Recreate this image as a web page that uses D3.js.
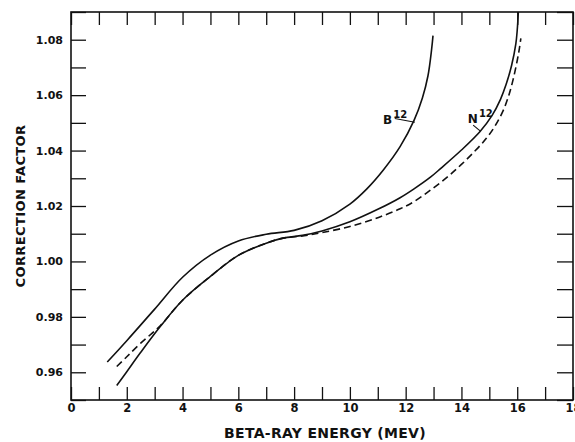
<!DOCTYPE html>
<html>
<head>
<meta charset="utf-8">
<script src="https://cdn.jsdelivr.net/npm/d3@7"></script>
<style>
  body { margin: 0; background: #fff; }
  svg { display: block; }
  text { font-family: "DejaVu Sans", sans-serif; font-weight: bold; fill: #111; }
</style>
</head>
<body>
<svg id="chart" width="575" height="442"></svg>
<script>
// beta-ray energy (MeV) vs correction factor
const b12 = [
  [1.30, 0.9637], [2.0, 0.9714], [3.0, 0.9828], [4.0, 0.9943], [5.0, 1.0023],
  [6.0, 1.0074], [7.0, 1.0098], [8.0, 1.0112], [9.0, 1.0147], [10.0, 1.0207],
  [10.6, 1.0261], [11.2, 1.0330], [11.8, 1.0414], [12.3, 1.0509], [12.6, 1.0590],
  [12.8, 1.0670], [12.93, 1.0765], [12.98, 1.0815]
];
const n12Solid = [
  [1.64, 0.9552], [2.0, 0.9602], [2.5, 0.9672], [3.2, 0.9765], [4.0, 0.9860],
  [5.0, 0.9946], [6.0, 1.0022], [7.0, 1.0066], [7.6, 1.0084], [8.3, 1.0094],
  [9.0, 1.0110], [10.0, 1.0143], [11.0, 1.0188], [11.8, 1.0230], [12.3, 1.0262],
  [12.9, 1.0305], [13.25, 1.0335], [14.0, 1.0402], [14.66, 1.0468], [15.1, 1.0527],
  [15.4, 1.0585], [15.6, 1.0638], [15.8, 1.0708], [15.95, 1.0785], [16.0, 1.0834],
  [16.04, 1.0900]
];
const n12Dashed = [
  [1.64, 0.9621], [2.0, 0.9656], [2.5, 0.9705], [3.2, 0.9768], [4.0, 0.9860],
  [5.0, 0.9946], [6.0, 1.0022], [7.0, 1.0066], [7.6, 1.0084], [8.3, 1.0092],
  [9.0, 1.0104], [10.0, 1.0126], [11.0, 1.0158], [11.8, 1.0190], [12.3, 1.0216],
  [12.9, 1.0258], [13.5, 1.0305], [14.0, 1.0350], [14.5, 1.0400], [14.9, 1.0445],
  [15.2, 1.0488], [15.5, 1.0545], [15.7, 1.0600], [15.85, 1.0655], [16.0, 1.0725],
  [16.08, 1.0770], [16.13, 1.0805]
];
const xTickValues = d3.range(0, 19);          // every MeV
const xLabelValues = d3.range(0, 19, 2);      // labelled ones
const yTickValues = d3.range(95, 110).map(v => v / 100);
const yLabelValues = [0.96, 0.98, 1.00, 1.02, 1.04, 1.06, 1.08];
const labels = [
  {name: 'B', sup: '12', at: [11.19, 1.0496], from: [11.61, 1.0516], to: [12.33, 1.0502]},
  {name: 'N', sup: '12', at: [14.23, 1.0500], from: [14.42, 1.0492], to: [14.68, 1.0470]}
];

const margin = {top: 12, right: 2, bottom: 42, left: 71},
    width = 575 - margin.left - margin.right,
    height = 442 - margin.top - margin.bottom;

const svg = d3.select('#chart');
const g = svg.append('g').attr('transform', `translate(${margin.left},${margin.top})`);

const x = d3.scaleLinear().domain([0, 18]).range([0, width]);
const y = d3.scaleLinear().domain([0.95, 1.09]).range([height, 0]);

//Inner ticks on all four sides.
const isLabelled = (vals, fmt) => d => vals.some(v => Math.abs(v - d) < 1e-9) ? fmt(d) : '';

const axisB = g.append('g')
    .attr('transform', `translate(0,${height})`)
    .call(d3.axisBottom(x).tickValues(xTickValues).tickSize(-13).tickPadding(4)
        .tickFormat(isLabelled(xLabelValues, d3.format('d'))));
const axisT = g.append('g')
    .call(d3.axisTop(x).tickValues(xTickValues).tickSize(-13).tickFormat(''));
const axisL = g.append('g')
    .call(d3.axisLeft(y).tickValues(yTickValues).tickSize(-15).tickPadding(8)
        .tickFormat(isLabelled(yLabelValues, d3.format('.2f'))));
const axisR = g.append('g')
    .attr('transform', `translate(${width},0)`)
    .call(d3.axisRight(y).tickValues(yTickValues).tickSize(-16).tickFormat(''));

[axisB, axisT, axisL, axisR].forEach(a => {
    a.select('.domain').remove();
    a.selectAll('line').attr('stroke', '#111').attr('stroke-width', 1.3);
    a.selectAll('text').attr('font-size', 11).attr('font-family', '"DejaVu Sans", sans-serif')
        .attr('font-weight', 'bold').attr('fill', '#111');
});
axisB.selectAll('text').attr('font-size', 11.5);

//Frame.
g.append('rect')
    .attr('width', width).attr('height', height)
    .attr('fill', 'none').attr('stroke', '#111').attr('stroke-width', 1.6);

//Curves, clipped to the frame.
g.append('clipPath').attr('id', 'plot-clip')
    .append('rect').attr('width', width).attr('height', height);

const line = d3.line()
    .x(d => x(d[0]))
    .y(d => y(d[1]))
    .curve(d3.curveCatmullRom.alpha(0.5));

const curves = g.append('g').attr('clip-path', 'url(#plot-clip)');
curves.append('path').datum(b12)
    .attr('d', line).attr('fill', 'none').attr('stroke', '#111').attr('stroke-width', 1.6);
curves.append('path').datum(n12Solid)
    .attr('d', line).attr('fill', 'none').attr('stroke', '#111').attr('stroke-width', 1.6);
curves.append('path').datum(n12Dashed)
    .attr('d', line).attr('fill', 'none').attr('stroke', '#111').attr('stroke-width', 1.6)
    .attr('stroke-dasharray', '7,4');

//Curve labels with leader lines.
labels.forEach(l => {
    const t = g.append('text')
        .attr('x', x(l.at[0])).attr('y', y(l.at[1]))
        .attr('font-size', 12);
    t.append('tspan').text(l.name);
    t.append('tspan').attr('font-size', 10).attr('dy', -6).attr('dx', 1).text(l.sup);
    g.append('line')
        .attr('x1', x(l.from[0])).attr('y1', y(l.from[1]))
        .attr('x2', x(l.to[0])).attr('y2', y(l.to[1]))
        .attr('stroke', '#111').attr('stroke-width', 1.1);
});

//Axis titles.
svg.append('text')
    .attr('x', margin.left + width / 2 + 3).attr('y', 438)
    .attr('text-anchor', 'middle').attr('font-size', 14).attr('letter-spacing', 0.3)
    .text('BETA-RAY ENERGY (MEV)');
svg.append('text')
    .attr('transform', `translate(25,${margin.top + height / 2}) rotate(-90)`)
    .attr('text-anchor', 'middle').attr('font-size', 13).attr('letter-spacing', 0.4)
    .text('CORRECTION FACTOR');
</script>
</body>
</html>
